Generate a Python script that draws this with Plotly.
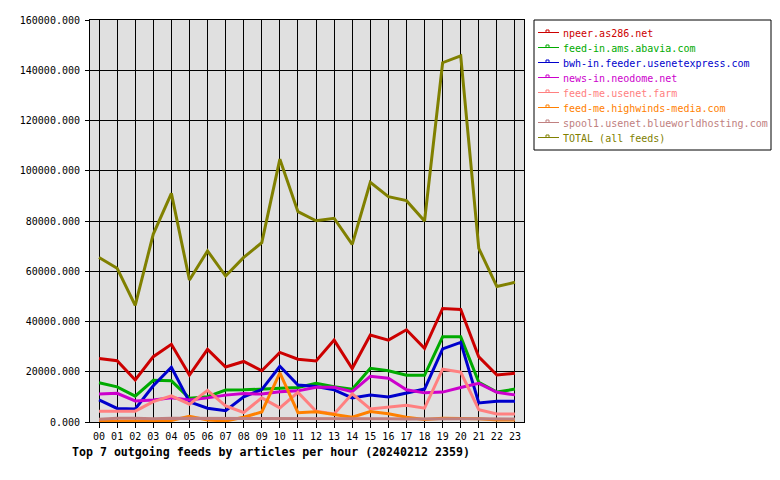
import plotly.graph_objects as go

hours = ["%02d" % h for h in range(24)]
x_idx = list(range(24))

series_names = [
    "npeer.as286.net",
    "feed-in.ams.abavia.com",
    "bwh-in.feeder.usenetexpress.com",
    "news-in.neodome.net",
    "feed-me.usenet.farm",
    "feed-me.highwinds-media.com",
    "spool1.usenet.blueworldhosting.com",
    "TOTAL (all feeds)",
]
series_colors = ["#cc0000", "#00aa00", "#0000cc", "#cc00cc", "#ff8080", "#ff8000", "#c08080", "#808000"]

npeer = [25300, 24400, 16700, 26000, 30900, 18700, 28900, 21900, 24100, 20400, 27700, 25000,
         24300, 32600, 21300, 34600, 32600, 36700, 29300, 45200, 44800, 25900, 18700, 19400]
abavia = [15600, 14000, 10300, 16600, 16400, 9500, 10100, 12700, 12800, 13000, 13400, 13700,
          15400, 14000, 13000, 21400, 20400, 18600, 18600, 33900, 33900, 15800, 11900, 13100]
usenetexpress = [8800, 5400, 5200, 14400, 21800, 8000, 5500, 4500, 10000, 12900, 22200, 14700,
                 14100, 12800, 9600, 10700, 10000, 11400, 13100, 29100, 31700, 7600, 8300, 8300]
neodome = [11100, 11400, 8400, 8800, 9600, 8800, 9600, 10700, 11300, 11100, 12000, 12400,
           13800, 13800, 12100, 18200, 17400, 12800, 11600, 11900, 13700, 15400, 11800, 10800]
usenet_farm = [4300, 4300, 4300, 8100, 10400, 7100, 12600, 6400, 3800, 9600, 5600, 11800,
               4300, 3200, 11200, 5200, 5800, 6700, 5500, 21000, 19900, 4900, 3200, 3200]
highwinds = [200, 300, 300, 400, 600, 2300, 800, 400, 1900, 4000, 19600, 3700,
             4100, 3000, 1900, 4200, 3300, 1900, 1000, 1500, 1500, 1300, 800, 800]
blueworld = [1100, 1500, 1500, 1300, 1500, 1500, 1500, 1300, 1300, 1500, 1500, 1500,
             1500, 1300, 1300, 1300, 1300, 1200, 1300, 1300, 1300, 1300, 1200, 1200]
total = [65500, 61200, 46400, 74800, 91000, 56500, 68100, 58100, 65500, 71400, 104600, 83700,
         80100, 81100, 70700, 95400, 89700, 88100, 80000, 143000, 145700, 69100, 53900, 55600]

all_series = [npeer, abavia, usenetexpress, neodome, usenet_farm, highwinds, blueworld, total]

y_ticks = list(range(0, 160001, 20000))
title_text = "Top 7 outgoing feeds by articles per hour (20240212 2359)"

FONT = "DejaVu Sans Mono"

# plot area in pixels
L, R, T, B = 90, 524, 20, 422
W, H = 780, 480


def px(x):
    return (x - L) / (R - L)


def py(y):
    return (B - y) / (B - T)


fig = go.Figure()
for name, color, vals in zip(series_names, series_colors, all_series):
    fig.add_trace(go.Scatter(x=x_idx, y=vals, mode="lines", name=name,
                             line=dict(color=color, width=3), showlegend=False))

shapes = [dict(type="rect", xref="paper", yref="paper", x0=px(534), x1=px(771), y0=py(20), y1=py(150),
               line=dict(color="black", width=1), fillcolor="white", layer="above")]
annotations = []
for i, (name, color) in enumerate(zip(series_names, series_colors)):
    yc = 33 + 15 * i
    shapes.append(dict(type="line", xref="paper", yref="paper", x0=px(538), x1=px(559),
                       y0=py(yc - 0.5), y1=py(yc - 0.5), line=dict(color=color, width=1)))
    shapes.append(dict(type="rect", xref="paper", yref="paper", x0=px(546), x1=px(549),
                       y0=py(yc - 0.5), y1=py(yc - 3), line=dict(color=color, width=1)))
    annotations.append(dict(xref="paper", yref="paper", x=px(561), y=py(yc), xanchor="left",
                            yanchor="middle", text=name, showarrow=False,
                            font=dict(family=FONT, size=10, color=color)))

fig.update_layout(
    width=W, height=H,
    margin=dict(l=L, r=W - R, t=T, b=H - B, pad=0),
    paper_bgcolor="white",
    plot_bgcolor="#e0e0e0",
    font=dict(family=FONT, size=10, color="black"),
    title=dict(text="<b>" + title_text + "</b>", x=72 / W, xanchor="left", xref="container",
               y=1 - 451.5 / H, yanchor="middle", yref="container",
               font=dict(family=FONT, size=11.6, color="black")),
    shapes=shapes,
    annotations=annotations,
    showlegend=False,
)
fig.update_xaxes(range=[-0.5, 23.5], tickvals=x_idx, ticktext=hours, showgrid=True,
                 gridcolor="black", gridwidth=1, showline=True, linecolor="black", linewidth=1,
                 mirror=True, ticks="outside", ticklen=5, tickcolor="black", zeroline=False,
                 tickfont=dict(family=FONT, size=10, color="black"))
fig.update_yaxes(range=[0, 160000], tickvals=y_ticks, tickformat=".3f", showgrid=True,
                 gridcolor="black", gridwidth=1, showline=True, linecolor="black", linewidth=1,
                 mirror=True, ticks="outside", ticklen=4, tickcolor="black", zeroline=False,
                 ticklabelstandoff=3,
                 tickfont=dict(family=FONT, size=10, color="black"))

fig.write_html("out.html")
